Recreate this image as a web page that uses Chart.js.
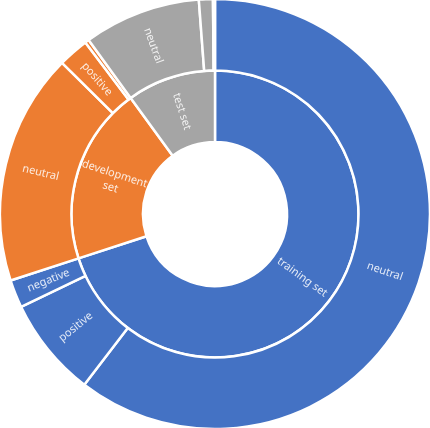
<!DOCTYPE html>
<html>
<head>
<meta charset="utf-8">
<script src="https://cdn.jsdelivr.net/npm/chart.js@4/dist/chart.umd.min.js"></script>
<style>
  html, body { margin: 0; padding: 0; background: #fff; }
  #wrap { width: 430px; height: 428px; position: relative; }
</style>
</head>
<body>
<div id="wrap"><canvas id="sunburst"></canvas></div>
<script>
// inner ring: dataset split
const splitLabels = ['training set', 'development set', 'test set'];
const splitValues = [70, 20, 10];
const splitColors = ['#4472C4', '#ED7D31', '#A5A5A5'];

// outer ring: sentiment within each split
const sentimentLabels = ['neutral', 'positive', 'negative',
                         'neutral', 'positive', 'negative',
                         'neutral', 'positive', 'negative'];
const sentimentValues = [60.4, 7.5, 2.1,
                         17.4, 2.3, 0.3,
                         8.8, 1.05, 0.15];
const sentimentParent = [0, 0, 0, 1, 1, 1, 2, 2, 2];

(function () {
    'use strict';

    // draws the rotated labels inside each arc
    const arcLabels = {
        id: 'arcLabels',
        afterDatasetsDraw(chart) {
            const ctx = chart.ctx;
            ctx.save();
            ctx.fillStyle = 'rgba(255,255,255,0.85)';
            ctx.font = '11px "Noto Sans", "Open Sans", sans-serif';
            ctx.textAlign = 'center';
            ctx.textBaseline = 'middle';
            chart.data.datasets.forEach(function (ds, di) {
                const meta = chart.getDatasetMeta(di);
                meta.data.forEach(function (arc, i) {
                    const p = arc.getProps(['startAngle', 'endAngle', 'innerRadius', 'outerRadius', 'x', 'y'], true);
                    const span = p.endAngle - p.startAngle;
                    if (span < 5 * Math.PI / 180) {
                        return;
                    }
                    const mid = (p.startAngle + p.endAngle) / 2;
                    const r = (p.innerRadius + p.outerRadius) / 2;
                    const x = p.x + Math.cos(mid) * r;
                    const y = p.y + Math.sin(mid) * r;
                    let rot = mid;
                    if (Math.cos(mid) < 0) {
                        rot = mid - Math.PI;
                    }
                    ctx.save();
                    ctx.translate(x, y);
                    ctx.rotate(rot);
                    if (ds.labels[i] === 'development set') {
                        ctx.fillText('development', 0, -7);
                        ctx.fillText('set', 0, 7);
                    } else {
                        ctx.fillText(ds.labels[i], 0, 0);
                    }
                    ctx.restore();
                });
            });
            ctx.restore();
        }
    };

    new Chart(document.getElementById('sunburst'), {
        type: 'doughnut',
        data: {
            labels: sentimentLabels,
            datasets: [
                {
                    data: sentimentValues,
                    labels: sentimentLabels,
                    backgroundColor: sentimentParent.map(p => splitColors[p]),
                    borderColor: '#ffffff',
                    borderWidth: 2.5
                },
                {
                    data: splitValues,
                    labels: splitLabels,
                    backgroundColor: splitColors,
                    borderColor: '#ffffff',
                    borderWidth: 2.5
                }
            ]
        },
        options: {
            responsive: true,
            maintainAspectRatio: false,
            animation: false,
            radius: 215,
            cutout: '33.5%',
            layout: { padding: 0 },
            events: [],
            plugins: {
                legend: { display: false },
                tooltip: { enabled: false }
            }
        },
        plugins: [arcLabels]
    });
})();
</script>
</body>
</html>
